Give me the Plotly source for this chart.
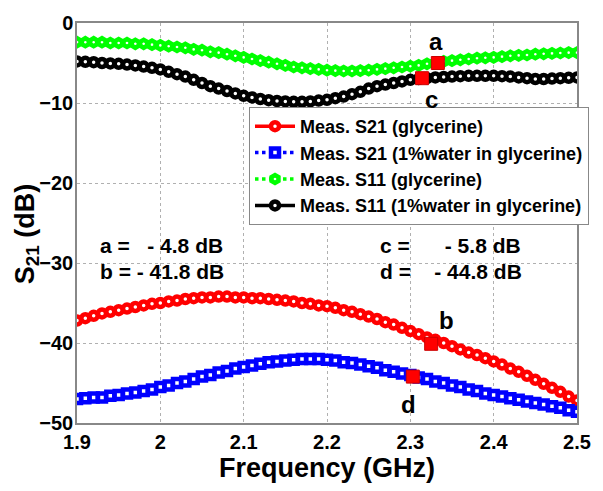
import plotly.graph_objects as go

freq = [1.90, 1.91, 1.92, 1.93, 1.94, 1.95, 1.96, 1.97, 1.98, 1.99,
        2.00, 2.01, 2.02, 2.03, 2.04, 2.05, 2.06, 2.07, 2.08, 2.09,
        2.10, 2.11, 2.12, 2.13, 2.14, 2.15, 2.16, 2.17, 2.18, 2.19,
        2.20, 2.21, 2.22, 2.23, 2.24, 2.25, 2.26, 2.27, 2.28, 2.29,
        2.30, 2.31, 2.32, 2.33, 2.34, 2.35, 2.36, 2.37, 2.38, 2.39,
        2.40, 2.41, 2.42, 2.43, 2.44, 2.45, 2.46, 2.47, 2.48, 2.49, 2.50]

s21_glycerine = [-37.2, -36.9, -36.6, -36.3, -36.1, -35.9, -35.7, -35.5, -35.3, -35.1,
                 -35.0, -34.8, -34.7, -34.5, -34.4, -34.3, -34.3, -34.2, -34.2, -34.3,
                 -34.3, -34.4, -34.4, -34.5, -34.6, -34.7, -34.8, -35.0, -35.1, -35.3,
                 -35.4, -35.6, -35.9, -36.1, -36.4, -36.7, -37.0, -37.4, -37.7, -38.1,
                 -38.5, -38.9, -39.3, -39.6, -40.0, -40.4, -40.8, -41.2, -41.5, -41.9,
                 -42.3, -42.7, -43.2, -43.6, -44.1, -44.6, -45.1, -45.6, -46.1, -46.7, -47.2]

s21_water = [-47.0, -46.9, -46.8, -46.8, -46.6, -46.5, -46.3, -46.2, -46.0, -45.8,
             -45.5, -45.3, -45.0, -44.8, -44.5, -44.2, -44.0, -43.7, -43.5, -43.2,
             -43.0, -42.8, -42.6, -42.4, -42.3, -42.2, -42.1, -42.0, -42.0, -42.0,
             -42.1, -42.2, -42.4, -42.5, -42.7, -42.9, -43.1, -43.4, -43.6, -43.8,
             -44.0, -44.3, -44.5, -44.8, -45.0, -45.3, -45.5, -45.8, -46.0, -46.3,
             -46.5, -46.7, -46.9, -47.1, -47.3, -47.5, -47.7, -47.9, -48.1, -48.4, -48.6]

s11_glycerine = [-2.4, -2.4, -2.4, -2.4, -2.5, -2.5, -2.5, -2.6, -2.6, -2.7,
                 -2.8, -2.9, -3.0, -3.1, -3.3, -3.4, -3.6, -3.7, -3.9, -4.1,
                 -4.3, -4.5, -4.7, -4.9, -5.1, -5.3, -5.5, -5.6, -5.7, -5.8,
                 -5.9, -5.95, -6.0, -6.0, -5.95, -5.9, -5.8, -5.7, -5.6, -5.5,
                 -5.4, -5.3, -5.1, -5.0, -4.8, -4.7, -4.6, -4.5, -4.4, -4.35,
                 -4.3, -4.2, -4.1, -4.05, -4.0, -3.9, -3.85, -3.8, -3.75, -3.7, -3.7]

s11_water = [-4.8, -4.85, -4.9, -5.0, -5.05, -5.1, -5.2, -5.3, -5.45, -5.6,
             -5.8, -6.1, -6.4, -6.7, -7.1, -7.5, -7.9, -8.2, -8.5, -8.8,
             -9.1, -9.3, -9.5, -9.65, -9.75, -9.8, -9.85, -9.85, -9.8, -9.7,
             -9.6, -9.4, -9.2, -8.9, -8.6, -8.2, -7.9, -7.7, -7.5, -7.3,
             -7.1, -7.0, -6.9, -6.8, -6.75, -6.7, -6.65, -6.6, -6.6, -6.6,
             -6.6, -6.65, -6.7, -6.8, -6.9, -7.0, -7.0, -6.95, -6.9, -6.85, -6.8]

marker_freq = [2.333, 2.314, 2.325, 2.303]
marker_val = [-5.0, -6.9, -40.1, -44.2]

x_ticks = [1.9, 2.0, 2.1, 2.2, 2.3, 2.4, 2.5]
x_tick_labels = ["1.9", "2", "2.1", "2.2", "2.3", "2.4", "2.5"]
y_ticks = [0, -10, -20, -30, -40, -50]

FONT = "Liberation Sans, Arial, sans-serif"

series = [
    ("Meas. S21 (glycerine)", s21_glycerine, "#ff0000", "solid", "circle"),
    ("Meas. S21 (1%water in glycerine)", s21_water, "#0000ff", "dot", "square"),
    ("Meas. S11 (glycerine)", s11_glycerine, "#00ff00", "dot", "hexagon"),
    ("Meas. S11 (1%water in glycerine)", s11_water, "#000000", "solid", "circle"),
]

fig = go.Figure()
for name, vals, color, dash, sym in series:
    fig.add_trace(go.Scatter(
        x=freq, y=vals, name=name, mode="lines+markers",
        line=dict(color=color, width=3.5, dash=dash),
        marker=dict(symbol=sym, size=8, color="white",
                    line=dict(color=color, width=4.5)),
    ))

fig.add_trace(go.Scatter(
    x=marker_freq, y=marker_val, mode="markers", showlegend=False,
    marker=dict(symbol="square", size=13, color="#ff0000",
                line=dict(color="#cc0000", width=1)),
))

ann_font = dict(family=FONT, size=21, color="black", weight="bold")
lbl_font = dict(family=FONT, size=24, color="black", weight="bold")
nb = "\u00a0"
annotations = [
    dict(x=1.925, y=-27.8, text=f"a ={nb*3}- 4.8 dB", xanchor="left", showarrow=False, font=ann_font),
    dict(x=1.925, y=-31.1, text="b = - 41.8 dB", xanchor="left", showarrow=False, font=ann_font),
    dict(x=2.261, y=-27.8, text=f"c ={nb*6}- 5.8 dB", xanchor="left", showarrow=False, font=ann_font),
    dict(x=2.261, y=-31.1, text=f"d ={nb*4}- 44.8 dB", xanchor="left", showarrow=False, font=ann_font),
    dict(x=2.331, y=-2.3, text="a", showarrow=False, font=lbl_font),
    dict(x=2.325, y=-9.6, text="c", showarrow=False, font=lbl_font),
    dict(x=2.343, y=-37.2, text="b", showarrow=False, font=lbl_font),
    dict(x=2.298, y=-47.7, text="d", showarrow=False, font=lbl_font),
    dict(xref="paper", yref="paper", x=-0.1, y=0.472, textangle=-90,
         xanchor="center", yanchor="middle",
         text="S<sub>21</sub> (dB)", showarrow=False,
         font=dict(family=FONT, size=27, color="black", weight="bold")),
]

fig.update_layout(
    width=603, height=491,
    margin=dict(l=77, r=14, t=18, b=68),
    paper_bgcolor="white", plot_bgcolor="white",
    font=dict(family=FONT, color="black"),
    showlegend=True,
    legend=dict(x=0.344, y=0.79, xanchor="left", yanchor="top",
                bgcolor="white", bordercolor="#888888", borderwidth=1,
                font=dict(family=FONT, size=18, color="black", weight="bold"),
                tracegroupgap=0, itemwidth=40),
    annotations=annotations,
    xaxis=dict(range=[1.9, 2.5], tickvals=x_ticks, ticktext=x_tick_labels,
               showgrid=True, gridcolor="#b0b0b0", griddash="dot", gridwidth=1,
               showline=True, linecolor="#888888", linewidth=1.5, mirror=True,
               ticks="", ticklen=0, zeroline=False,
               tickfont=dict(family=FONT, size=20, color="black", weight="bold"),
               title=dict(text="Frequency (GHz)", standoff=6,
                          font=dict(family=FONT, size=27, color="black", weight="bold"))),
    yaxis=dict(range=[-50, 0], tickvals=y_ticks,
               showgrid=True, gridcolor="#b0b0b0", griddash="dot", gridwidth=1,
               showline=True, linecolor="#888888", linewidth=1.5, mirror=True,
               ticks="", ticklen=0, zeroline=False, ticklabelstandoff=-2,
               tickfont=dict(family=FONT, size=20, color="black", weight="bold")),
)

fig.write_html("out.html")
